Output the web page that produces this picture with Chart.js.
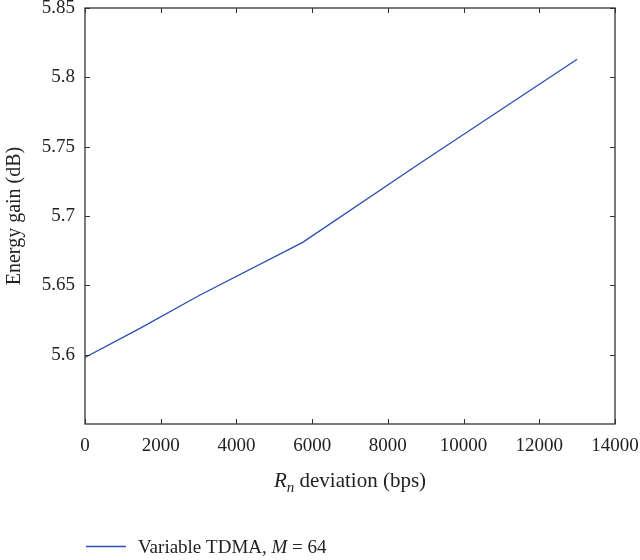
<!DOCTYPE html>
<html>
<head>
<meta charset="utf-8">
<script src="https://cdn.jsdelivr.net/npm/chart.js@4.4.1/dist/chart.umd.min.js"></script>
<style>
html,body{margin:0;padding:0;background:#fff;}
#wrap{width:640px;height:560px;}
</style>
</head>
<body>
<div id="wrap"><canvas id="c" width="640" height="560"></canvas></div>
<script>
// Data
const deviationBps = [0, 1450, 3040, 5750, 8850, 13000];
const energyGainDb = [5.598, 5.619, 5.643, 5.681, 5.738, 5.813];
const seriesLabel = ['Variable TDMA, ', 'M', ' = 64'];
const xTicks = [0, 2000, 4000, 6000, 8000, 10000, 12000, 14000];
const yTicks = [5.6, 5.65, 5.7, 5.75, 5.8, 5.85];

const FONT = '"Liberation Serif", "DejaVu Serif", serif';
const TXT = '#222';
const LINE = '#2d4db3';

const framePlugin = {
  id: 'frame',
  afterDraw(chart) {
    const {ctx, chartArea: a, scales} = chart;
    ctx.save();
    ctx.strokeStyle = '#333';
    ctx.lineWidth = 1.3;
    ctx.strokeRect(a.left, a.top, a.right - a.left, a.bottom - a.top);
    const L = 5;
    ctx.lineWidth = 1;
    ctx.beginPath();
    xTicks.forEach(v => {
      const px = Math.round(scales.x.getPixelForValue(v)) + 0.5;
      ctx.moveTo(px, a.bottom); ctx.lineTo(px, a.bottom - L);
      ctx.moveTo(px, a.top); ctx.lineTo(px, a.top + L);
    });
    yTicks.forEach(v => {
      const py = Math.round(scales.y.getPixelForValue(v)) + 0.5;
      ctx.moveTo(a.left, py); ctx.lineTo(a.left + L, py);
      ctx.moveTo(a.right, py); ctx.lineTo(a.right - L, py);
    });
    ctx.stroke();

    // x-axis title with italic R and subscript n
    ctx.fillStyle = TXT;
    ctx.textBaseline = 'alphabetic';
    const parts = [
      {t: 'R', f: 'italic 21px ' + FONT, dy: 0},
      {t: 'n', f: 'italic 15px ' + FONT, dy: 5},
      {t: ' deviation (bps)', f: '21px ' + FONT, dy: 0}
    ];
    let w = 0;
    parts.forEach(p => { ctx.font = p.f; p.w = ctx.measureText(p.t).width; w += p.w; });
    let x = (a.left + a.right) / 2 - w / 2;
    const base = 487;
    parts.forEach(p => { ctx.font = p.f; ctx.fillText(p.t, x, base + p.dy); x += p.w; });

    // legend
    const ly = 546.5;
    ctx.strokeStyle = LINE;
    ctx.lineWidth = 1.3;
    ctx.beginPath(); ctx.moveTo(86, ly); ctx.lineTo(126, ly); ctx.stroke();
    let lx = 138;
    const lparts = [
      {t: seriesLabel[0], f: '19px ' + FONT},
      {t: seriesLabel[1], f: 'italic 19px ' + FONT},
      {t: seriesLabel[2], f: '19px ' + FONT}
    ];
    lparts.forEach(p => { ctx.font = p.f; ctx.fillText(p.t, lx, 553); lx += ctx.measureText(p.t).width; });
    ctx.restore();
  }
};

new Chart(document.getElementById('c'), {
  type: 'line',
  data: {
    datasets: [{
      label: seriesLabel.join(''),
      data: deviationBps.map((x, i) => ({x, y: energyGainDb[i]})),
      borderColor: LINE,
      borderWidth: 1.3,
      pointRadius: 0,
      tension: 0,
      fill: false
    }]
  },
  options: {
    responsive: false,
    animation: false,
    devicePixelRatio: 1,
    layout: {padding: {left: 0, right: 25, top: 8, bottom: 0}},
    plugins: {legend: {display: false}, tooltip: {enabled: false}},
    scales: {
      x: {
        type: 'linear', min: 0, max: 14000,
        afterBuildTicks: s => { s.ticks = xTicks.map(v => ({value: v})); },
        afterFit: s => { s.height = 136; s.paddingLeft = 0; s.paddingRight = 0; },
        grid: {display: false, drawTicks: false},
        border: {display: false},
        ticks: {padding: 11, color: TXT, font: {family: FONT, size: 19}, callback: v => String(v), maxRotation: 0}
      },
      y: {
        type: 'linear', min: 5.55, max: 5.85,
        afterBuildTicks: s => { s.ticks = yTicks.map(v => ({value: v})); },
        afterFit: s => { s.width = 85; s.paddingTop = 0; s.paddingBottom = 0; },
        grid: {display: false, drawTicks: false},
        border: {display: false},
        title: {display: true, text: 'Energy gain (dB)', color: TXT, font: {family: FONT, size: 20}, padding: {top: 3, bottom: 0}},
        ticks: {padding: 10, color: TXT, font: {family: FONT, size: 19}, callback: v => String(Math.round(v * 100) / 100)}
      }
    }
  },
  plugins: [framePlugin]
});
</script>
</body>
</html>
